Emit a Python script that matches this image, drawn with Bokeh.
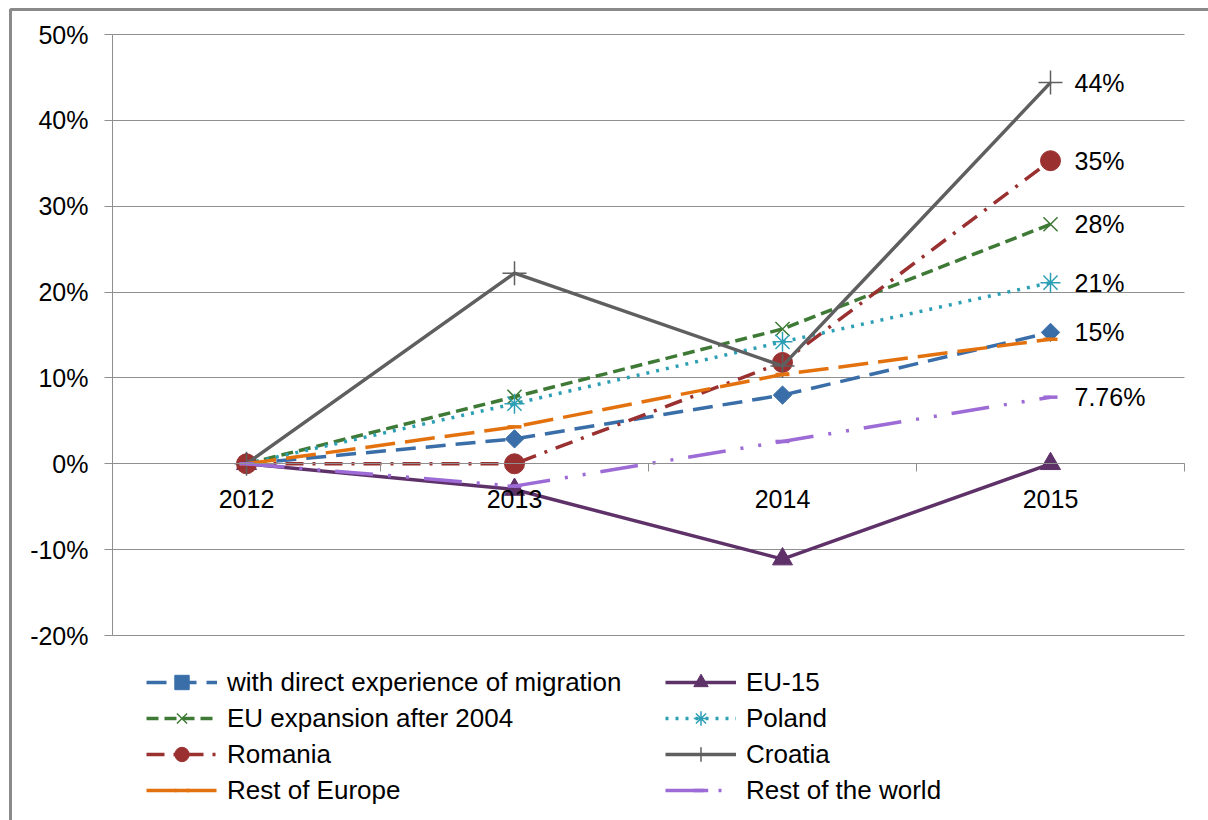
from bokeh.plotting import figure
from bokeh.models import (FixedTicker, NumeralTickFormatter, Legend, LegendItem,
                          BoxAnnotation, Range1d)
from bokeh.embed import file_html
from bokeh.resources import INLINE
from bokeh.core.properties import value

# ---- data -------------------------------------------------------------
years = ["2012", "2013", "2014", "2015"]

direct_migration = [0.0, 0.029, 0.080, 0.153]
eu15 = [0.0, -0.030, -0.111, 0.0]
eu_expansion = [0.0, 0.078, 0.157, 0.279]
poland = [0.0, 0.070, 0.142, 0.211]
romania = [0.0, 0.0, 0.118, 0.353]
croatia = [0.0, 0.222, 0.114, 0.444]
rest_europe = [0.0, 0.043, 0.104, 0.145]
rest_world = [0.0, -0.026, 0.026, 0.0776]

y_ticks = [-0.2, -0.1, 0.0, 0.1, 0.2, 0.3, 0.4, 0.5]

# name, values, colour, dash, marker, label decimals (None = no end label)
series = [
    ("with direct experience of migration", direct_migration, "#3a6ea8", "20 10", "diamond", 0),
    ("EU-15", eu15, "#5e3169", "solid", "triangle", None),
    ("EU expansion after 2004", eu_expansion, "#3e7a35", "12 6", "x", 0),
    ("Poland", poland, "#2d9fb5", "3 7", "asterisk", 0),
    ("Romania", romania, "#9a3030", "18 9 3 9", "circle", 0),
    ("Croatia", croatia, "#5f5f5f", "solid", "cross", 0),
    ("Rest of Europe", rest_europe, "#e3720e", "30 10", "dash", None),
    ("Rest of the world", rest_world, "#9d6bd5", "38 15 3 15 3 15", "dash", 2),
]

FONT = "Liberation Sans"
GRID = "#8f8f8f"

# ---- page geometry (pixels) --------------------------------------------
W, H = 1208, 820
PLOT_L, PLOT_R, PLOT_T, PLOT_B = 112, 1184, 34, 635

n = len(years)
xs = [i + 0.5 for i in range(n)]
y_lo, y_hi = y_ticks[0], y_ticks[-1]

# the frame fills the whole canvas; axes are pinned inside it
px_x = (PLOT_R - PLOT_L) / n
px_y = (PLOT_B - PLOT_T) / (y_hi - y_lo)
x_range = Range1d(-PLOT_L / px_x, (W - PLOT_L) / px_x)
y_range = Range1d(y_hi - (H - PLOT_T) / px_y, y_hi + PLOT_T / px_y)

p = figure(width=W, height=H, output_backend="svg", toolbar_location=None,
           x_range=x_range, y_range=y_range, min_border=0)
p.outline_line_color = None
p.background_fill_color = "white"
p.border_fill_color = "white"

# x axis on the zero line, labels centred in each category slot
xa = p.xaxis[0]
xa.fixed_location = 0
xa.bounds = (0, n)
xa.ticker = FixedTicker(ticks=xs, minor_ticks=list(range(n + 1)))
xa.major_label_overrides = {x: y for x, y in zip(xs, years)}
xa.major_tick_out = 0
xa.major_tick_in = 0
xa.minor_tick_out = 8
xa.minor_tick_in = 0
xa.minor_tick_line_color = GRID
xa.axis_line_color = GRID
xa.major_label_standoff = 18
xa.major_label_text_font = FONT
xa.major_label_text_font_size = "25px"
xa.major_label_text_color = "black"

ya = p.yaxis[0]
ya.fixed_location = 0
ya.bounds = (y_lo, y_hi)
ya.ticker = FixedTicker(ticks=y_ticks)
ya.formatter = NumeralTickFormatter(format="0%")
ya.major_tick_out = 8
ya.major_tick_in = 0
ya.minor_tick_out = 0
ya.minor_tick_in = 0
ya.major_tick_line_color = GRID
ya.axis_line_color = GRID
ya.major_label_standoff = 16
ya.major_label_text_font = FONT
ya.major_label_text_font_size = "25px"
ya.major_label_text_color = "black"

p.xgrid.visible = False
yg = p.ygrid[0]
yg.grid_line_color = GRID
yg.grid_line_width = 1
yg.bounds = (y_lo, y_hi)
if "cross_bounds" in yg.properties():
    yg.cross_bounds = (0, n)
else:
    yg.visible = False
    p.segment(x0=[0] * len(y_ticks), x1=[n] * len(y_ticks), y0=y_ticks, y1=y_ticks,
              line_color=GRID, line_width=1)

items = []
for name, vals, color, dash, marker, dec in series:
    lr = p.line(xs, vals, line_color=color, line_width=3.5, line_dash=dash)
    if marker == "diamond":
        mr = p.scatter(xs, vals, marker="square", angle=0.785398, size=13,
                       fill_color=color, line_color=color)
    elif marker in ("x", "asterisk"):
        mr = p.scatter(xs, vals, marker=marker, size=20, line_color=color,
                       line_width=1.5, fill_color=None)
    elif marker == "cross":
        mr = p.scatter(xs, vals, marker=marker, size=24, line_color=color,
                       line_width=1.5, fill_color=None)
    elif marker == "dash":
        mr = p.scatter(xs, vals, marker="dash", size=14, line_color=color,
                       line_width=3.5)
    else:
        mr = p.scatter(xs, vals, marker=marker, size=20, fill_color=color,
                       line_color=color)
    items.append(LegendItem(label=name, renderers=[lr, mr]))
    if dec is not None:
        txt = f"{vals[-1] * 100:.{dec}f}%"
        p.text([xs[-1]], [vals[-1]], text=[txt], x_offset=24,
               text_font=value(FONT), text_font_size="25px",
               text_baseline="middle", text_align="left", text_color="black")


def make_legend(its, x):
    return Legend(items=its, location=(x, 12), orientation="vertical",
                  border_line_color=None, background_fill_alpha=0,
                  padding=0, margin=0, spacing=0,
                  glyph_width=71, glyph_height=36, label_height=36,
                  label_standoff=10, label_text_font=FONT,
                  label_text_font_size="26px", label_text_color="black")


p.add_layout(make_legend(items[0::2], 146))
p.add_layout(make_legend(items[1::2], 665))

# chart border
p.add_layout(BoxAnnotation(left=10, right=W + 30, top=9, bottom=H + 30,
                           left_units="canvas", right_units="canvas",
                           top_units="canvas", bottom_units="canvas",
                           fill_alpha=0, line_color="#8a8a8a", line_alpha=1,
                           line_width=3))

open("out.html", "w").write(file_html(p, INLINE))
